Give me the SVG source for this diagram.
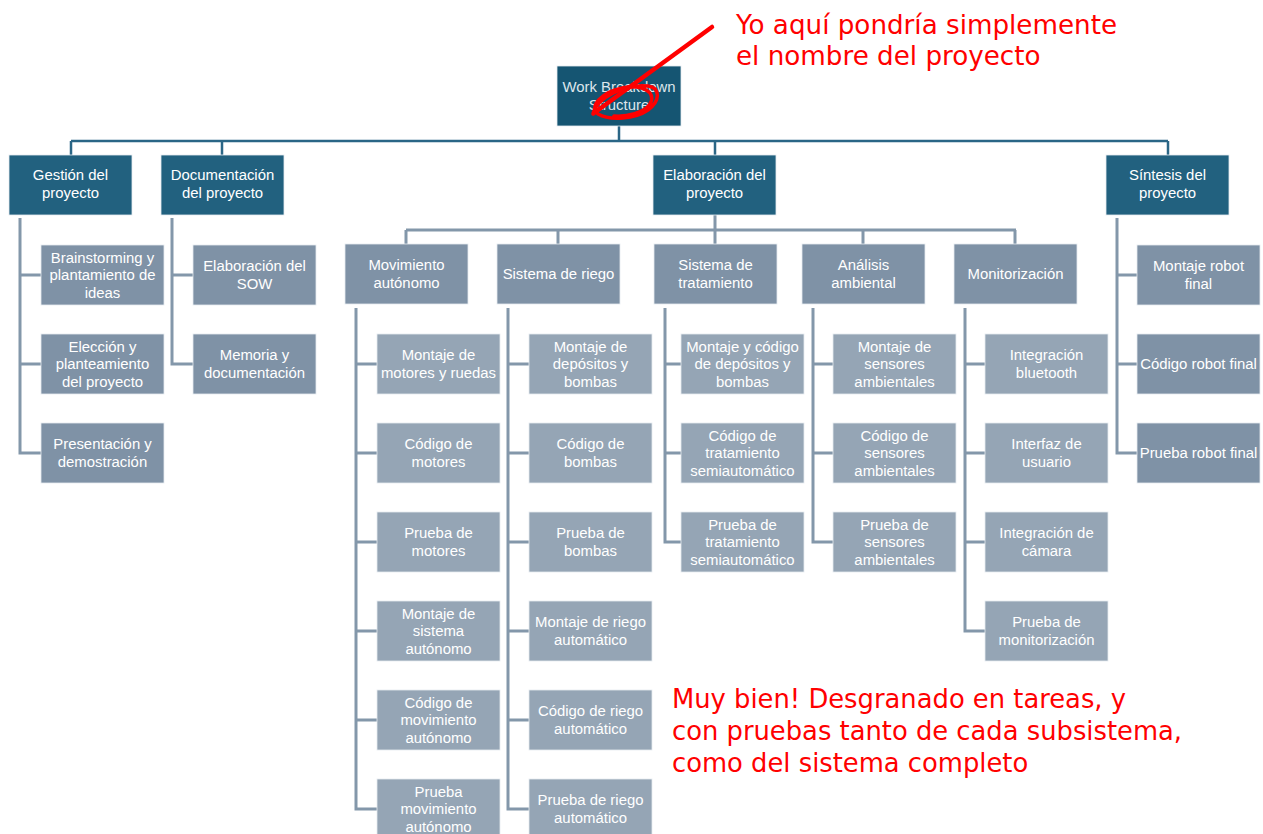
<svg xmlns="http://www.w3.org/2000/svg" width="1263" height="834" viewBox="0 0 1263 834">
<style>
.t{font-family:"Liberation Sans",Arial,sans-serif;font-size:14.9px;fill:#ffffff;text-anchor:middle}
.root{fill:#155572}
.l1{fill:#22617f}
.l2{fill:#7f92a6}
.l3{fill:#95a5b5}
.box{stroke:#e6ecf1;stroke-width:0.8}
.c1{fill:none;stroke:#2a6686;stroke-width:2.5}
.c2{fill:none;stroke:#8397aa;stroke-width:3}
.red{font-family:"DejaVu Sans",sans-serif;font-size:25.8px;fill:#ff0000}
.redtop{font-family:"DejaVu Sans",sans-serif;font-size:26.2px;fill:#ff0000}
</style>
<rect width="1263" height="834" fill="#ffffff"/>
<g id="connectors">
<path class="c1" d="M619 126V141M71 141H1168M71 141V155M222 141V155M715 141V155M1168 141V155"/>
<path class="c2" d="M715 215V230M406 230H1016M406 230V244M558 230V244M715 230V244M863 230V244M1015 230V244"/>
<path class="c2" d="M20 218V453H41M20 275H41M20 364H41"/>
<path class="c2" d="M172 218V364H193M172 275H193"/>
<path class="c2" d="M356 308V809H377M356 364H377M356 453H377M356 542H377M356 631H377M356 720H377"/>
<path class="c2" d="M508 308V809H529M508 364H529M508 453H529M508 542H529M508 631H529M508 720H529"/>
<path class="c2" d="M665 308V542H681M665 364H681M665 453H681"/>
<path class="c2" d="M813 308V542H833M813 364H833M813 453H833"/>
<path class="c2" d="M965 308V631H985M965 364H985M965 453H985M965 542H985"/>
<path class="c2" d="M1117 218V453H1137M1117 275H1137M1117 364H1137"/>
</g>
<g id="root"><rect class="root box" x="557" y="66" width="124" height="60"/><text class="t" style="fill:#dde6ec"><tspan x="619" y="92">Work Breakdown</tspan><tspan x="619" y="109.5">Structure</tspan></text></g>
<g id="gestion"><rect class="l1 box" x="9" y="155" width="123" height="60"/><text class="t"><tspan x="70.5" y="180">Gestión del</tspan><tspan x="70.5" y="197.5">proyecto</tspan></text></g>
<g id="documentacion"><rect class="l1 box" x="161" y="155" width="123" height="60"/><text class="t"><tspan x="222.5" y="180">Documentación</tspan><tspan x="222.5" y="197.5">del proyecto</tspan></text></g>
<g id="elaboracion"><rect class="l1 box" x="653" y="155" width="123" height="60"/><text class="t"><tspan x="714.5" y="180">Elaboración del</tspan><tspan x="714.5" y="197.5">proyecto</tspan></text></g>
<g id="sintesis"><rect class="l1 box" x="1106" y="155" width="123" height="60"/><text class="t"><tspan x="1167.5" y="180">Síntesis del</tspan><tspan x="1167.5" y="197.5">proyecto</tspan></text></g>

<g id="brainstorming"><rect class="l2 box" x="41" y="245" width="123" height="60"/><text class="t"><tspan x="102.5" y="262.5">Brainstorming y</tspan><tspan x="102.5" y="280">plantamiento de</tspan><tspan x="102.5" y="297.5">ideas</tspan></text></g>
<g id="eleccion"><rect class="l2 box" x="41" y="334" width="123" height="60"/><text class="t"><tspan x="102.5" y="351.5">Elección  y</tspan><tspan x="102.5" y="369">planteamiento</tspan><tspan x="102.5" y="386.5">del proyecto</tspan></text></g>
<g id="presentacion"><rect class="l2 box" x="41" y="423" width="123" height="60"/><text class="t"><tspan x="102.5" y="449">Presentación y</tspan><tspan x="102.5" y="466.5">demostración</tspan></text></g>
<g id="sow"><rect class="l2 box" x="193" y="245" width="123" height="60"/><text class="t"><tspan x="254.5" y="271">Elaboración del</tspan><tspan x="254.5" y="288.5">SOW</tspan></text></g>
<g id="memoria"><rect class="l2 box" x="193" y="334" width="123" height="60"/><text class="t"><tspan x="254.5" y="360">Memoria y</tspan><tspan x="254.5" y="377.5">documentación</tspan></text></g>

<g id="movimiento"><rect class="l2 box" x="345" y="244" width="123" height="60"/><text class="t"><tspan x="406.5" y="270">Movimiento</tspan><tspan x="406.5" y="287.5">autónomo</tspan></text></g>
<g id="riego"><rect class="l2 box" x="497" y="244" width="123" height="60"/><text class="t"><tspan x="558.5" y="279">Sistema de riego</tspan></text></g>
<g id="tratamiento"><rect class="l2 box" x="654" y="244" width="123" height="60"/><text class="t"><tspan x="715.5" y="270">Sistema de</tspan><tspan x="715.5" y="287.5">tratamiento</tspan></text></g>
<g id="analisis"><rect class="l2 box" x="802" y="244" width="123" height="60"/><text class="t"><tspan x="863.5" y="270">Análisis</tspan><tspan x="863.5" y="287.5">ambiental</tspan></text></g>
<g id="monitorizacion"><rect class="l2 box" x="954" y="244" width="123" height="60"/><text class="t"><tspan x="1015.5" y="279">Monitorización</tspan></text></g>

<g id="montaje-robot"><rect class="l2 box" x="1137" y="245" width="123" height="60"/><text class="t"><tspan x="1198.5" y="271">Montaje robot</tspan><tspan x="1198.5" y="288.5">final</tspan></text></g>
<g id="codigo-robot"><rect class="l2 box" x="1137" y="334" width="123" height="60"/><text class="t"><tspan x="1198.5" y="369">Código robot final</tspan></text></g>
<g id="prueba-robot"><rect class="l2 box" x="1137" y="423" width="123" height="60"/><text class="t"><tspan x="1198.5" y="458">Prueba robot final</tspan></text></g>

<g id="mov1"><rect class="l3 box" x="377" y="334" width="123" height="60"/><text class="t"><tspan x="438.5" y="360">Montaje de</tspan><tspan x="438.5" y="377.5">motores y ruedas</tspan></text></g>
<g id="mov2"><rect class="l3 box" x="377" y="423" width="123" height="60"/><text class="t"><tspan x="438.5" y="449">Código de</tspan><tspan x="438.5" y="466.5">motores</tspan></text></g>
<g id="mov3"><rect class="l3 box" x="377" y="512" width="123" height="60"/><text class="t"><tspan x="438.5" y="538">Prueba de</tspan><tspan x="438.5" y="555.5">motores</tspan></text></g>
<g id="mov4"><rect class="l3 box" x="377" y="601" width="123" height="60"/><text class="t"><tspan x="438.5" y="618.5">Montaje de</tspan><tspan x="438.5" y="636">sistema</tspan><tspan x="438.5" y="653.5">autónomo</tspan></text></g>
<g id="mov5"><rect class="l3 box" x="377" y="690" width="123" height="60"/><text class="t"><tspan x="438.5" y="707.5">Código de</tspan><tspan x="438.5" y="725">movimiento</tspan><tspan x="438.5" y="742.5">autónomo</tspan></text></g>
<g id="mov6"><rect class="l3 box" x="377" y="779" width="123" height="60"/><text class="t"><tspan x="438.5" y="796.5">Prueba</tspan><tspan x="438.5" y="814">movimiento</tspan><tspan x="438.5" y="831.5">autónomo</tspan></text></g>

<g id="rie1"><rect class="l3 box" x="529" y="334" width="123" height="60"/><text class="t"><tspan x="590.5" y="351.5">Montaje de</tspan><tspan x="590.5" y="369">depósitos y</tspan><tspan x="590.5" y="386.5">bombas</tspan></text></g>
<g id="rie2"><rect class="l3 box" x="529" y="423" width="123" height="60"/><text class="t"><tspan x="590.5" y="449">Código de</tspan><tspan x="590.5" y="466.5">bombas</tspan></text></g>
<g id="rie3"><rect class="l3 box" x="529" y="512" width="123" height="60"/><text class="t"><tspan x="590.5" y="538">Prueba de</tspan><tspan x="590.5" y="555.5">bombas</tspan></text></g>
<g id="rie4"><rect class="l3 box" x="529" y="601" width="123" height="60"/><text class="t"><tspan x="590.5" y="627">Montaje de riego</tspan><tspan x="590.5" y="644.5">automático</tspan></text></g>
<g id="rie5"><rect class="l3 box" x="529" y="690" width="123" height="60"/><text class="t"><tspan x="590.5" y="716">Código de riego</tspan><tspan x="590.5" y="733.5">automático</tspan></text></g>
<g id="rie6"><rect class="l3 box" x="529" y="779" width="123" height="60"/><text class="t"><tspan x="590.5" y="805">Prueba de riego</tspan><tspan x="590.5" y="822.5">automático</tspan></text></g>

<g id="tra1"><rect class="l3 box" x="681" y="334" width="123" height="60"/><text class="t"><tspan x="742.5" y="351.5">Montaje y código</tspan><tspan x="742.5" y="369">de depósitos y</tspan><tspan x="742.5" y="386.5">bombas</tspan></text></g>
<g id="tra2"><rect class="l3 box" x="681" y="423" width="123" height="60"/><text class="t"><tspan x="742.5" y="440.5">Código de</tspan><tspan x="742.5" y="458">tratamiento</tspan><tspan x="742.5" y="475.5">semiautomático</tspan></text></g>
<g id="tra3"><rect class="l3 box" x="681" y="512" width="123" height="60"/><text class="t"><tspan x="742.5" y="529.5">Prueba de</tspan><tspan x="742.5" y="547">tratamiento</tspan><tspan x="742.5" y="564.5">semiautomático</tspan></text></g>

<g id="ana1"><rect class="l3 box" x="833" y="334" width="123" height="60"/><text class="t"><tspan x="894.5" y="351.5">Montaje de</tspan><tspan x="894.5" y="369">sensores</tspan><tspan x="894.5" y="386.5">ambientales</tspan></text></g>
<g id="ana2"><rect class="l3 box" x="833" y="423" width="123" height="60"/><text class="t"><tspan x="894.5" y="440.5">Código de</tspan><tspan x="894.5" y="458">sensores</tspan><tspan x="894.5" y="475.5">ambientales</tspan></text></g>
<g id="ana3"><rect class="l3 box" x="833" y="512" width="123" height="60"/><text class="t"><tspan x="894.5" y="529.5">Prueba de</tspan><tspan x="894.5" y="547">sensores</tspan><tspan x="894.5" y="564.5">ambientales</tspan></text></g>

<g id="mon1"><rect class="l3 box" x="985" y="334" width="123" height="60"/><text class="t"><tspan x="1046.5" y="360">Integración</tspan><tspan x="1046.5" y="377.5">bluetooth</tspan></text></g>
<g id="mon2"><rect class="l3 box" x="985" y="423" width="123" height="60"/><text class="t"><tspan x="1046.5" y="449">Interfaz de</tspan><tspan x="1046.5" y="466.5">usuario</tspan></text></g>
<g id="mon3"><rect class="l3 box" x="985" y="512" width="123" height="60"/><text class="t"><tspan x="1046.5" y="538">Integración de</tspan><tspan x="1046.5" y="555.5">cámara</tspan></text></g>
<g id="mon4"><rect class="l3 box" x="985" y="601" width="123" height="60"/><text class="t"><tspan x="1046.5" y="627">Prueba de</tspan><tspan x="1046.5" y="644.5">monitorización</tspan></text></g>

<g id="annotations">
<path d="M712 27L594 113" fill="none" stroke="#ff0000" stroke-width="4.5" stroke-linecap="round"/>
<path d="M593 114C597 97 625 84 648 86C661 88 660 101 648 110C635 119 610 121 598 114C588 106 603 92 622 88C642 84 657 92 650 104C644 113 627 117 614 116" fill="none" stroke="#ff0000" stroke-width="3.5" stroke-linecap="round"/>
<text class="redtop"><tspan x="736" y="34">Yo aquí pondría simplemente</tspan><tspan x="736" y="65">el nombre del proyecto</tspan></text>
<text class="red"><tspan x="672" y="708">Muy bien! Desgranado en tareas, y</tspan><tspan x="672" y="740">con pruebas tanto de cada subsistema,</tspan><tspan x="672" y="772">como del sistema completo</tspan></text>
</g>
</svg>
